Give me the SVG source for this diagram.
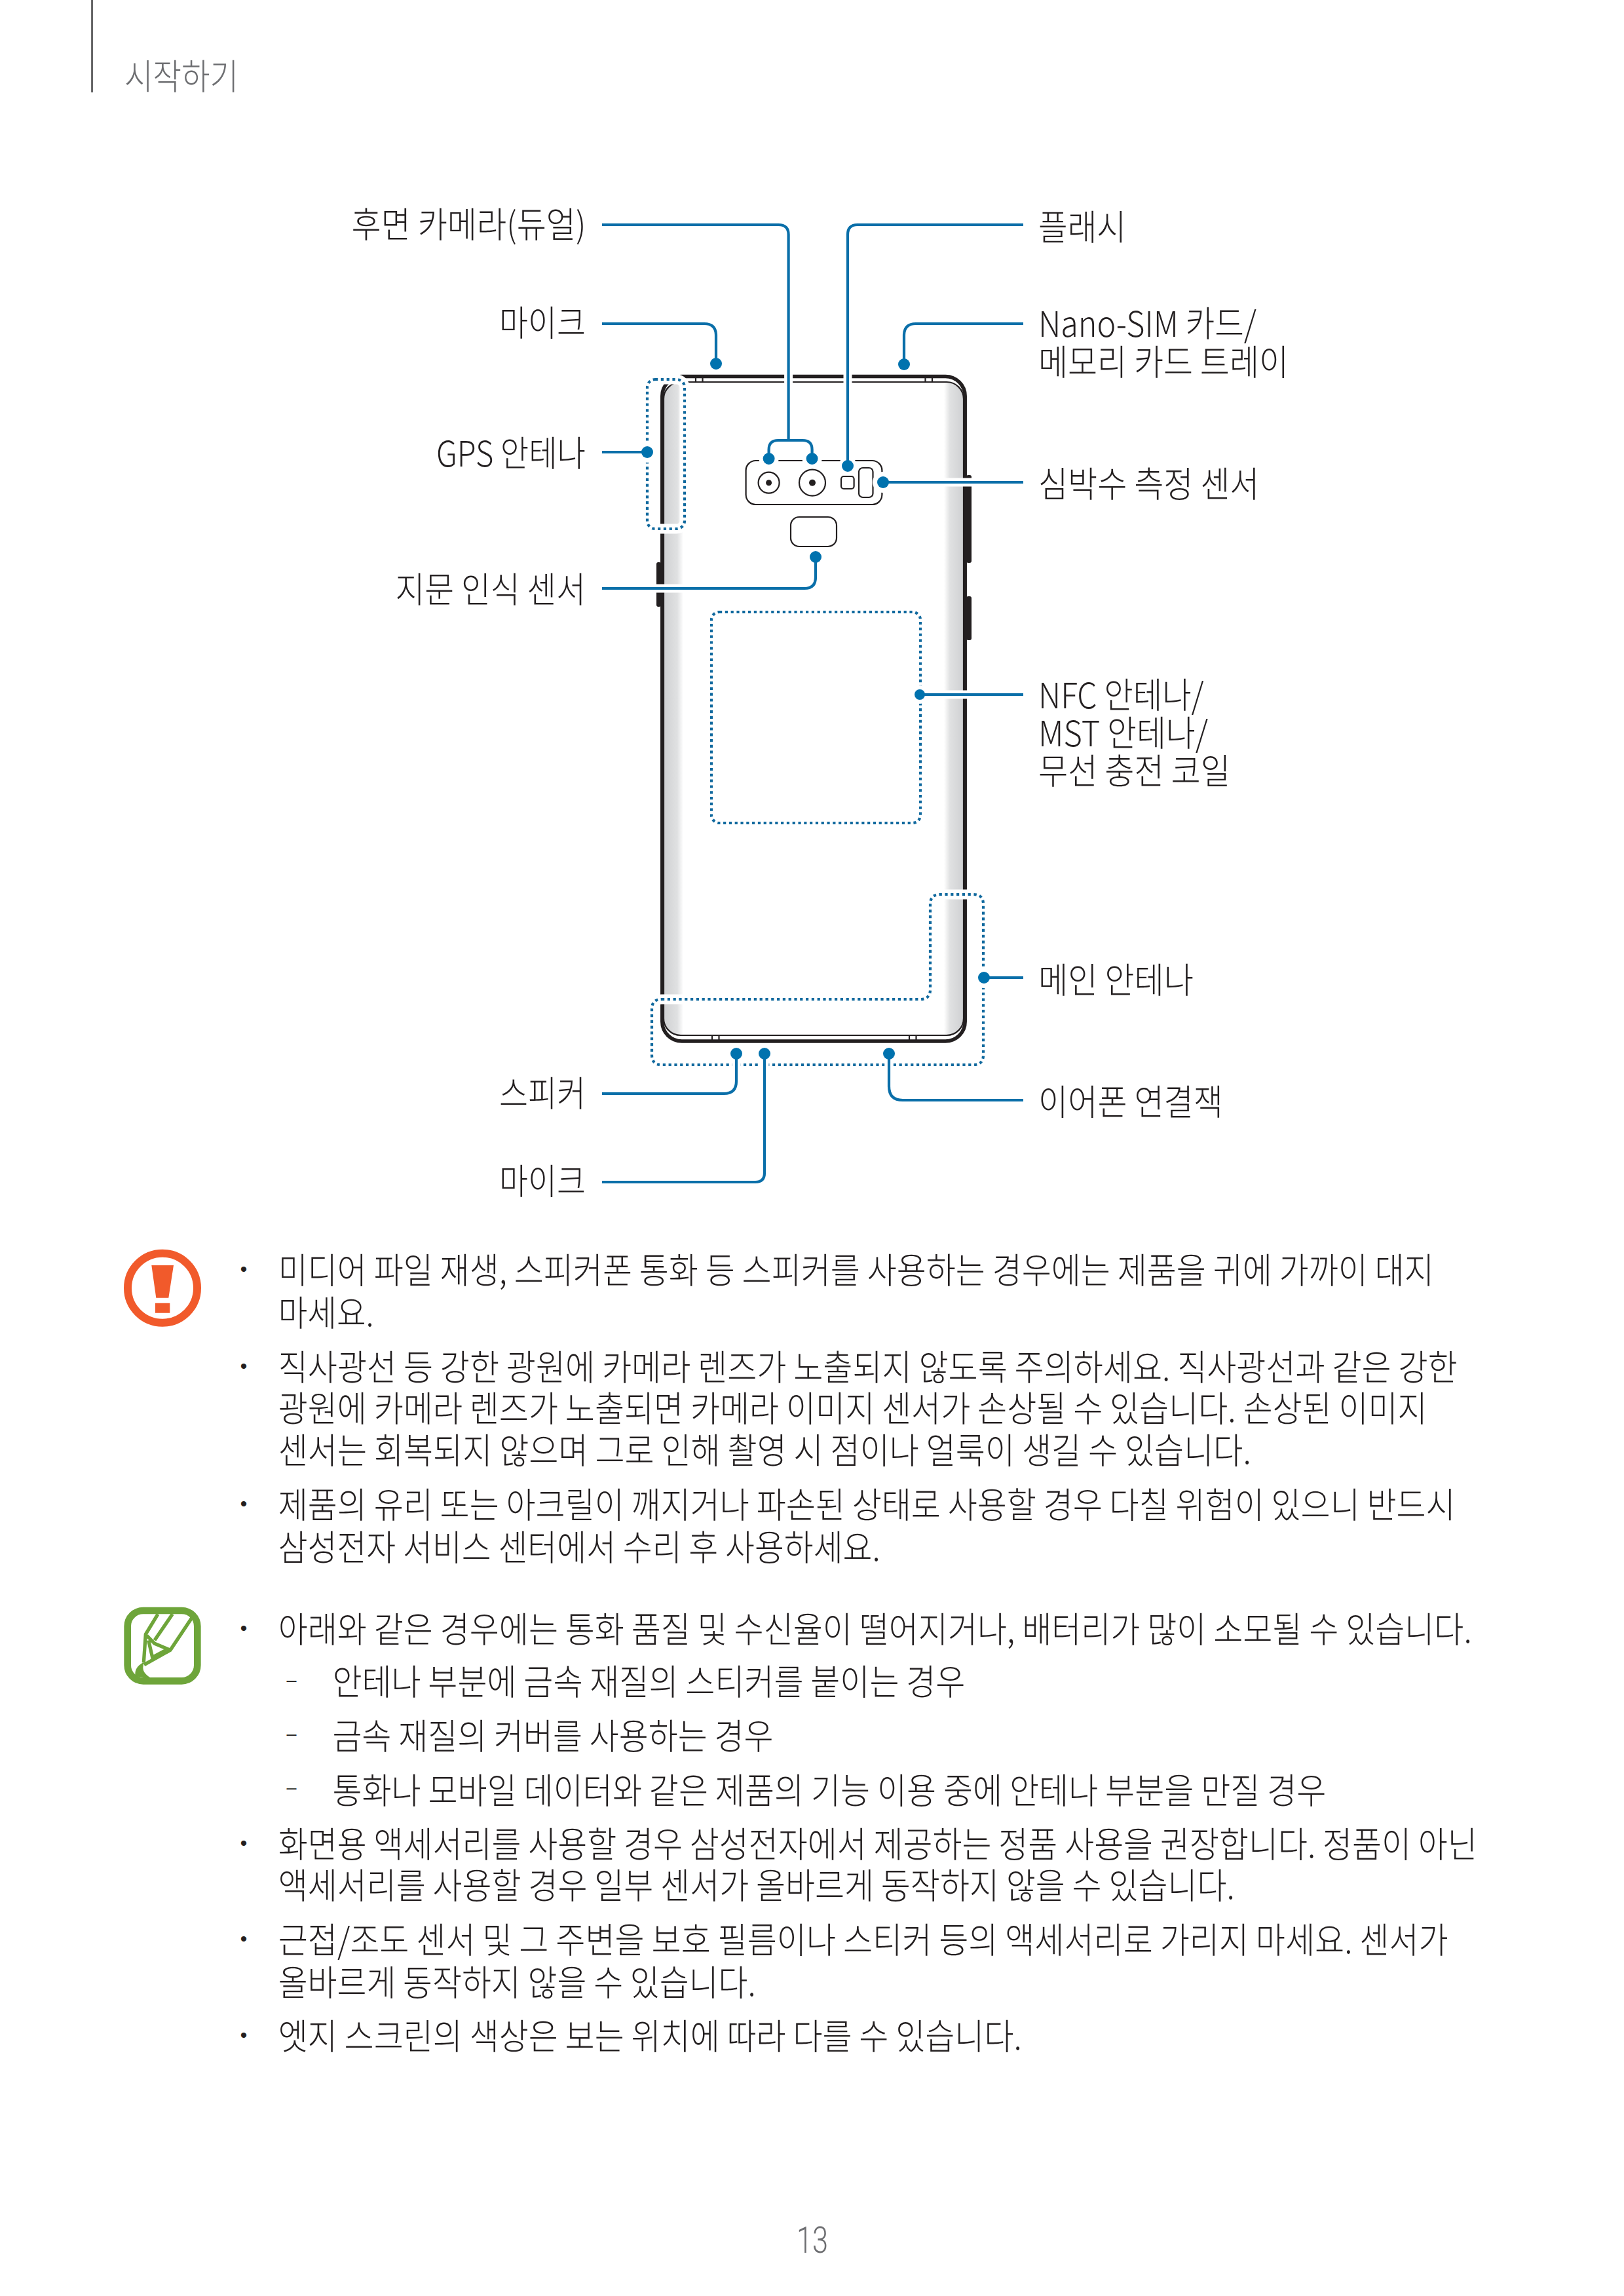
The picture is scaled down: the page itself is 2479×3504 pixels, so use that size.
<svg xmlns="http://www.w3.org/2000/svg" width="2479" height="3504" viewBox="0 0 2479 3504">
<style>
text{font-family:"Noto Sans CJK KR","Noto Sans",sans-serif;font-weight:300;font-size:54px;fill:#231f20}
.gray{fill:#6d6e71}
.num{font-family:Roboto,"Noto Sans",sans-serif;font-size:55px;font-weight:300}
.ph{fill:none;stroke:#231f20;stroke-width:5.5}
.th{fill:none;stroke:#231f20;stroke-width:2.2}
.halo{fill:none;stroke:#fff;stroke-width:13}
.dhalo{fill:none;stroke:#fff;stroke-width:15}
.dot{fill:none;stroke:#10699e;stroke-width:4.2;stroke-dasharray:4.2 4.6}
.con{fill:none;stroke:#0a6fa9;stroke-width:4.200}
.pt{fill:#0072ae}
.wh{fill:#fff}
.bl{font-family:"Liberation Sans",sans-serif;font-size:30px;text-anchor:middle}
.ds{font-family:"Liberation Sans",sans-serif;font-size:27px}
</style>
<defs>
<linearGradient id="gl" x1="0" x2="1" y1="0" y2="0"><stop offset="0" stop-color="#cfd0d2"/><stop offset=".7" stop-color="#e0e1e2"/><stop offset="1" stop-color="#fff"/></linearGradient>
<linearGradient id="gr" x1="0" x2="1" y1="0" y2="0"><stop offset="0" stop-color="#fff"/><stop offset=".3" stop-color="#e0e1e2"/><stop offset="1" stop-color="#cfd0d2"/></linearGradient>
<clipPath id="inner"><rect x="1013" y="583" width="458" height="997" rx="26"/></clipPath>
</defs>
<rect width="2479" height="3504" fill="#fff"/>
<g id="header">
<line x1="140.5" y1="0" x2="140.5" y2="141" stroke="#3a3a3c" stroke-width="2.4"/>
<text class="gray" x="190" y="137" textLength="174" lengthAdjust="spacingAndGlyphs">시작하기</text>
</g>
<g id="phone">
<g clip-path="url(#inner)">
<rect x="1013" y="583" width="30" height="997" fill="url(#gl)"/>
<rect x="1441" y="583" width="30" height="997" fill="url(#gr)"/>
</g>
<rect class="ph" x="1010.8" y="574.5" width="462.4" height="1014.5" rx="30"/>
<rect class="th" x="1013" y="583" width="458" height="997" rx="26"/>
<path class="th" d="M1062 577V583M1072.500 577V583M1412.500 577V583M1423 577V583M1087 1580V1587M1097.500 1580V1587M1388 1580V1587M1398.500 1580V1587"/>
<g fill="#231f20">
<rect x="1002" y="858" width="7" height="68" rx="3"/>
<rect x="1475" y="725" width="8" height="134" rx="3"/>
<rect x="1475" y="910" width="8" height="67" rx="3"/>
</g>
<rect class="th" x="1138.600" y="703" width="207.800" height="67" rx="15"/>
<circle class="th" cx="1173.600" cy="736.700" r="16"/>
<circle cx="1173.600" cy="736.700" r="4.500" fill="#231f20"/>
<circle class="th" cx="1240" cy="736.700" r="20"/>
<circle cx="1240" cy="736.700" r="5" fill="#231f20"/>
<rect class="th" x="1284" y="727" width="19.600" height="19" rx="4"/>
<rect class="th" x="1311" y="714" width="21.500" height="45" rx="6"/>
<rect class="th" x="1207" y="789" width="70" height="45" rx="13"/>
</g>
<g id="antennas">
<rect class="dhalo" x="988" y="579" width="57" height="228" rx="12"/>
<path id="main-outline-halo" class="dhalo" d="M1010 1525H1405Q1420 1525 1420 1510V1380Q1420 1365 1435 1365H1486Q1501 1365 1501 1380V1610Q1501 1625 1486 1625H1010Q995 1625 995 1610V1540Q995 1525 1010 1525Z"/>
<rect class="dot" x="988" y="579" width="57" height="228" rx="12"/>
<rect class="dot" x="1086" y="934" width="319" height="322" rx="12"/>
<path class="dot" d="M1010 1525H1405Q1420 1525 1420 1510V1380Q1420 1365 1435 1365H1486Q1501 1365 1501 1380V1610Q1501 1625 1486 1625H1010Q995 1625 995 1610V1540Q995 1525 1010 1525Z"/>
</g>
<g id="connectors">
<g class="halos">
<path class="halo" d="M1203.600 343V671M1294 360V711M919 898H1228Q1245 898 1245 881V850M1124 1608V1650Q1124 1669 1105 1669H919M1167 1608V1790Q1167 1804 1153 1804H919M1357 1608V1658Q1357 1679 1378 1679H1562M1404 1060H1562M1348 736H1562"/>
<circle class="wh" cx="1173.600" cy="700" r="15"/><circle class="wh" cx="1239.600" cy="700" r="15"/>
<circle class="wh" cx="1294" cy="711" r="14"/><circle class="wh" cx="1348" cy="736" r="16"/>
<circle class="wh" cx="988" cy="690" r="16"/><circle class="wh" cx="1502" cy="1492" r="16"/>
<circle class="wh" cx="1404" cy="1060" r="14"/>
</g>
<path class="con" d="M919 343H1188Q1203.600 343 1203.600 358V671"/>
<path class="con" d="M1173.600 700V686Q1173.600 672 1188 672H1225Q1239.600 672 1239.600 686V700"/>
<path class="con" d="M1562 343H1309Q1294 343 1294 358V711"/>
<path class="con" d="M919 494H1075Q1093 494 1093 512V555"/>
<path class="con" d="M1562 494H1398Q1380 494 1380 512V556"/>
<path class="con" d="M919 690H988"/>
<path class="con" d="M1348 736H1562"/>
<path class="con" d="M919 898H1228Q1245 898 1245 881V850"/>
<path class="con" d="M1404 1060H1562"/>
<path class="con" d="M1502 1492H1562"/>
<path class="con" d="M1124 1608V1650Q1124 1669 1105 1669H919"/>
<path class="con" d="M1167 1608V1790Q1167 1804 1153 1804H919"/>
<path class="con" d="M1357 1608V1658Q1357 1679 1378 1679H1562"/>
<g class="pt">
<circle cx="1173.600" cy="700" r="9"/><circle cx="1239.600" cy="700" r="9"/>
<circle cx="1294" cy="711" r="9"/><circle cx="1093" cy="555" r="9"/><circle cx="1380" cy="556" r="9"/>
<circle cx="988" cy="690" r="9"/><circle cx="1348" cy="736" r="9"/><circle cx="1245" cy="850" r="9"/>
<circle cx="1404" cy="1060" r="8"/><circle cx="1502" cy="1492" r="9"/>
<circle cx="1124" cy="1608" r="9"/><circle cx="1167" cy="1608" r="9"/><circle cx="1357" cy="1608" r="9"/>
</g>
</g>
<g id="node-rear-camera"><text x="536.500" y="363" textLength="358" lengthAdjust="spacingAndGlyphs">후면 카메라(듀얼)</text></g>
<g id="node-mic-top"><text x="762" y="513" textLength="132" lengthAdjust="spacingAndGlyphs">마이크</text></g>
<g id="node-gps"><text x="666" y="712" textLength="228" lengthAdjust="spacingAndGlyphs">GPS 안테나</text></g>
<g id="node-fingerprint"><text x="603.500" y="920" textLength="290.500" lengthAdjust="spacingAndGlyphs">지문 인식 센서</text></g>
<g id="node-speaker"><text x="762" y="1689" textLength="132" lengthAdjust="spacingAndGlyphs">스피커</text></g>
<g id="node-mic-bottom"><text x="762" y="1823" textLength="132" lengthAdjust="spacingAndGlyphs">마이크</text></g>
<g id="node-flash"><text x="1585" y="367" textLength="134" lengthAdjust="spacingAndGlyphs">플래시</text></g>
<g id="node-tray"><text x="1585" y="514" textLength="333" lengthAdjust="spacingAndGlyphs">Nano-SIM 카드/</text><text x="1585" y="573" textLength="382" lengthAdjust="spacingAndGlyphs">메모리 카드 트레이</text></g>
<g id="node-heart"><text x="1585" y="759" textLength="337.500" lengthAdjust="spacingAndGlyphs">심박수 측정 센서</text></g>
<g id="node-nfc"><text x="1585" y="1081" textLength="252.600" lengthAdjust="spacingAndGlyphs">NFC 안테나/</text><text x="1585" y="1139" textLength="259" lengthAdjust="spacingAndGlyphs">MST 안테나/</text><text x="1585" y="1197" textLength="293" lengthAdjust="spacingAndGlyphs">무선 충전 코일</text></g>
<g id="node-main-antenna"><text x="1585" y="1516" textLength="237" lengthAdjust="spacingAndGlyphs">메인 안테나</text></g>
<g id="node-earjack"><text x="1585" y="1702" textLength="282" lengthAdjust="spacingAndGlyphs">이어폰 연결잭</text></g>
<g id="icon-caution">
<circle cx="248" cy="1965.700" r="53" fill="none" stroke="#f15a2b" stroke-width="12"/>
<path d="M231.300 1931H265L257.300 1980.700H238.300ZM237 1988.700H259.300V2003.700H237Z" fill="#f15a2b"/>
</g>
<g id="icon-note" transform="translate(160 2420) scale(.3333)">
<rect x="104" y="114" width="320" height="322" rx="72" fill="none" stroke="#6ea53a" stroke-width="32"/>
<path d="M243 130L187 222L178 352M310 130L228 250M400 145L300 295L180 362M192 228L228 265L300 295M200 250L218 328L280 295" fill="none" stroke="#6ea53a" stroke-width="16"/>
<path d="M178 350C150 365 135 385 140 415L215 425C190 410 175 395 175 375Z" fill="#6ea53a"/>
</g>
<g id="caution-list">
<text class="bl" x="372" y="1947">•</text>
<text x="424.700" y="1959" textLength="1764" lengthAdjust="spacingAndGlyphs">미디어 파일 재생, 스피커폰 통화 등 스피커를 사용하는 경우에는 제품을 귀에 가까이 대지</text>
<text x="424.700" y="2024" textLength="146" lengthAdjust="spacingAndGlyphs">마세요.</text>
<text class="bl" x="372" y="2095">•</text>
<text x="424.700" y="2107" textLength="1800" lengthAdjust="spacingAndGlyphs">직사광선 등 강한 광원에 카메라 렌즈가 노출되지 않도록 주의하세요. 직사광선과 같은 강한</text>
<text x="424.700" y="2170" textLength="1754" lengthAdjust="spacingAndGlyphs">광원에 카메라 렌즈가 노출되면 카메라 이미지 센서가 손상될 수 있습니다. 손상된 이미지</text>
<text x="424.700" y="2234" textLength="1485" lengthAdjust="spacingAndGlyphs">센서는 회복되지 않으며 그로 인해 촬영 시 점이나 얼룩이 생길 수 있습니다.</text>
<text class="bl" x="372" y="2305">•</text>
<text x="424.700" y="2317" textLength="1797" lengthAdjust="spacingAndGlyphs">제품의 유리 또는 아크릴이 깨지거나 파손된 상태로 사용할 경우 다칠 위험이 있으니 반드시</text>
<text x="424.700" y="2382" textLength="919" lengthAdjust="spacingAndGlyphs">삼성전자 서비스 센터에서 수리 후 사용하세요.</text>
</g>
<g id="note-list">
<text class="bl" x="372" y="2495">•</text>
<text x="424.700" y="2507" textLength="1822" lengthAdjust="spacingAndGlyphs">아래와 같은 경우에는 통화 품질 및 수신율이 떨어지거나, 배터리가 많이 소모될 수 있습니다.</text>
<text class="ds" x="437.500" y="2573">–</text>
<text x="507.400" y="2587" textLength="966" lengthAdjust="spacingAndGlyphs">안테나 부분에 금속 재질의 스티커를 붙이는 경우</text>
<text class="ds" x="437.500" y="2655">–</text>
<text x="507.400" y="2670" textLength="673" lengthAdjust="spacingAndGlyphs">금속 재질의 커버를 사용하는 경우</text>
<text class="ds" x="437.500" y="2737">–</text>
<text x="507.400" y="2753" textLength="1517" lengthAdjust="spacingAndGlyphs">통화나 모바일 데이터와 같은 제품의 기능 이용 중에 안테나 부분을 만질 경우</text>
<text class="bl" x="372" y="2823">•</text>
<text x="424.700" y="2835" textLength="1830" lengthAdjust="spacingAndGlyphs">화면용 액세서리를 사용할 경우 삼성전자에서 제공하는 정품 사용을 권장합니다. 정품이 아닌</text>
<text x="424.700" y="2898" textLength="1460" lengthAdjust="spacingAndGlyphs">액세서리를 사용할 경우 일부 센서가 올바르게 동작하지 않을 수 있습니다.</text>
<text class="bl" x="372" y="2969">•</text>
<text x="424.700" y="2981" textLength="1786" lengthAdjust="spacingAndGlyphs">근접/조도 센서 및 그 주변을 보호 필름이나 스티커 등의 액세서리로 가리지 마세요. 센서가</text>
<text x="424.700" y="3046" textLength="729" lengthAdjust="spacingAndGlyphs">올바르게 동작하지 않을 수 있습니다.</text>
<text class="bl" x="372" y="3116">•</text>
<text x="424.700" y="3128" textLength="1135" lengthAdjust="spacingAndGlyphs">엣지 스크린의 색상은 보는 위치에 따라 다를 수 있습니다.</text>
</g>
<g id="page-number"><text class="gray num" x="1216" y="3438" textLength="48" lengthAdjust="spacingAndGlyphs">13</text></g>
</svg>
